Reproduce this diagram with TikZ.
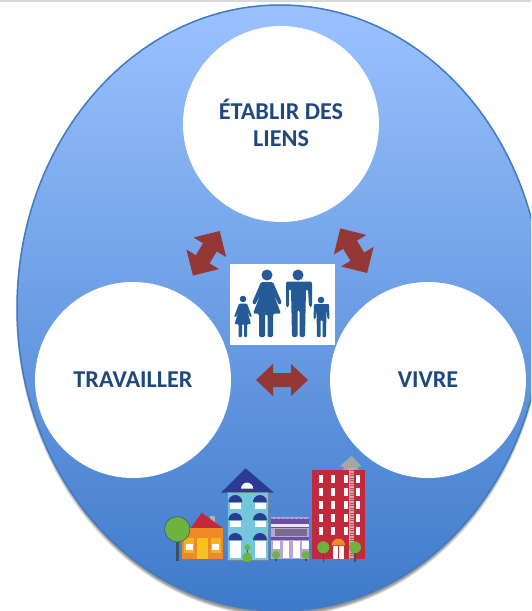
\documentclass[tikz,border=0pt]{standalone}
\usepackage{fontspec}
\setmainfont{Carlito}
\definecolor{txt}{HTML}{1F497D}
\definecolor{arr}{HTML}{953735}
\definecolor{fam}{HTML}{245A96}
\definecolor{navy}{HTML}{2B3A94}
\definecolor{topblue}{RGB}{155,194,255}
\definecolor{botblue}{RGB}{62,122,202}
\definecolor{rimblue}{RGB}{66,122,194}
\definecolor{leaf}{HTML}{6DB33F}
\definecolor{stem}{HTML}{3F4F63}
\definecolor{teal1}{HTML}{74C6DA}
\definecolor{brick}{HTML}{C22A3C}
\definecolor{ora}{HTML}{F08A24}
\definecolor{yel}{HTML}{F9C21E}
\definecolor{lil}{HTML}{B9A4D6}
\definecolor{pur}{HTML}{6A4FA3}
\tikzset{
 circ/.style={circle,fill=white,minimum size=196pt,inner sep=0pt,align=center,text=txt,font=\bfseries\fontsize{24.2}{27}\selectfont},
 person/.style={fill=fam},
 halo/.style={fill=black,fill opacity=.1},
}
\newcommand{\dblarrow}[7]{% x y rotate halflen depth halfwidth halfshaft
 \fill[arr,shift={(#1,#2)},rotate=#3] (-#4,0)--(-#4+#5,-#6)--(-#4+#5,-#7)--(#4-#5,-#7)--(#4-#5,-#6)--(#4,0)--(#4-#5,#6)--(#4-#5,#7)--(-#4+#5,#7)--(-#4+#5,#6)--cycle;}
\newcommand{\shrub}[3]{\fill[leaf] (#1,#2) circle (#3);}
\begin{document}
\begin{tikzpicture}[x=1pt,y=-1pt]
\useasboundingbox (0,0) rectangle (531,611);
\fill[white] (0,0) rectangle (531,611);
\begin{scope}
\clip (0,0) rectangle (531,611);
\foreach \g in {4,3,2,1,0}{\fill[halo] (280,311.5) ellipse [x radius=261+\g*.7,y radius=302+\g*.7];}
\shade[top color=topblue,bottom color=botblue,draw=rimblue,line width=1.5pt] (280,308) ellipse [x radius=263,y radius=303];
\end{scope}
\fill[black!15] (0,0) rectangle (531,2);
\node[circ] (top) at (281,124) {\raisebox{2pt}{ÉTABLIR DES}\\\raisebox{2pt}{LIENS}};
\node[circ] (left) at (133,380) {TRAVAILLER};
\node[circ] (right) at (428,380) {VIVRE};
\dblarrow{206.3}{253.3}{59}{26}{19}{19}{8}
\dblarrow{353.7}{250.7}{-59}{26}{19}{19}{8}
\dblarrow{282}{380}{0}{26}{17}{16}{7}
% family
\node[fill=white,minimum width=105pt,minimum height=81pt,inner sep=0pt] (pic) at (282.5,304.5) {};
\begin{scope}
 % father
 \fill[person] (298,275) circle (5.5);
 \fill[person,rounded corners=2] (286,281.5)--(312,281.5)--(312,307)--(309,307)--(308,289)--(306,289)--(305,337)--(299.5,337)--(299.5,310)--(297.5,310)--(297.5,337)--(292,337)--(291,289)--(289,289)--(289,307)--(286,307)--cycle;
 % mother
 \fill[person] (267,275) circle (5.5);
 \fill[person,rounded corners=1.5] (261,282)--(273,282)--(282,303)--(279,305)--(273,293)--(281,313.5)--(273,313.5)--(273,337)--(267.5,337)--(267.5,314)--(265,314)--(265,337)--(259,337)--(259,313.5)--(253,313.5)--(261,293)--(255,305)--(252,303)--cycle;
 % girl
 \fill[person] (243,299) circle (3.3);
 \fill[person,rounded corners=1] (239,303.5)--(247,303.5)--(252,317)--(250,317)--(247,310)--(251,324)--(247,324)--(247,337)--(244,337)--(244,324)--(242,324)--(242,337)--(238.5,337)--(238.5,324)--(234.5,324)--(239,310)--(236,317)--(234,317)--cycle;
 % boy
 \fill[person] (321,300) circle (3.3);
 \fill[person,rounded corners=1] (314,304)--(329,304)--(329.5,319)--(327.5,319)--(326.5,310)--(326,337)--(322.5,337)--(322.5,320)--(320.5,320)--(320.5,337)--(317,337)--(316.5,310)--(315.5,319)--(313.5,319)--cycle;
\end{scope}
% left tree
\fill[stem] (176,542) rectangle (178.6,560.7);
% orange house
\fill[black!30] (210,516) rectangle (215,523);
\fill[brick] (190.7,528)--(201.7,512.7)--(222.7,528)--cycle;
\fill[ora] (182,528) rectangle (222.7,559.3);
\fill[yel] (197.3,538) rectangle (207.7,559);
\fill[yel!70!ora] (184,538) rectangle (194,553);
\fill[yel!70!ora] (211,538) rectangle (220.7,553);
\fill[white] (186,544) rectangle (193,550);
\fill[white] (212,544) rectangle (219,550);
\draw[fill=leaf,draw=stem,line width=.5pt] (177.3,529.3) circle (12.7);
% blue building
\fill[navy] (221,492.7)--(245.7,468.3)--(274,492.7)--cycle;
\fill[white] (241,488.7) arc [start angle=180,end angle=360,radius=6.1] -- cycle;
\draw[fill=teal1,draw=stem!70,line width=.5pt] (226.9,492.7) rectangle (268.7,560);
\foreach \x/\xx in {235.3/230,260/255}{
 \foreach \y/\h in {502/7,520/7,540/18.3}{
  \fill[navy] (\x-7,\y) arc [start angle=180,end angle=360,radius=7] -- cycle;
  \fill[white] (\xx,\y+.7) rectangle (\xx+10.7,\y+\h);
 }
}
\fill[stem] (246.7,548) rectangle (248,563);
\shrub{247.3}{547.3}{3}
\shrub{247.3}{557.3}{5}
% shop
\fill[lil] (270.7,517.3) rectangle (309.3,559.3);
\fill[pur] (270.7,519) rectangle (309.3,523.5);
\foreach \x in {272,276.5,...,308}{\fill[pur] (\x,519.5) circle (1.4);}
\fill[white!70!lil] (270.7,523.5) rectangle (309.3,526.5);
\fill[pur] (270.7,526.5) rectangle (309.3,528);
\fill[black!35!lil] (275,529.3) rectangle (307,535.7);
\fill[pur] (270.7,536.5) rectangle (309.3,539.5);
\fill[white] (272.7,540.7) rectangle (280,549.3);
\fill[white] (282.7,540.7) rectangle (289.3,558.3);
\fill[white] (292.7,540.7) rectangle (300,558.3);
\fill[white] (301.7,540.7) rectangle (308.7,549.3);
\fill[stem] (275.2,555) rectangle (276.8,561);
\fill[stem] (304.9,555) rectangle (306.5,561);
\shrub{276}{555}{4}
\shrub{305.7}{555}{4}
% red building
\fill[black!35] (339.3,466.7)--(351.7,455.7)--(361.7,466.7)--(358.3,466.7)--(358.3,470)--(343.3,470)--(343.3,466.7)--cycle;
\fill[brick] (312.3,470) rectangle (365,559.3);
\foreach \x in {320.7,333,345.7,358}{
 \foreach \y in {479.3,492,505,517.7,530.7}{
  \fill[white] (\x-2.2,\y-4) rectangle (\x+2.2,\y+4);
 }
}
\fill[brick!45!white] (349,468) rectangle (354,559.3);
\foreach \y in {470,472.5,...,558}{\fill[brick!60!black!70] (349.5,\y) rectangle (353.5,\y+.8);}
\fill[ora] (331.7,545.3) arc [start angle=180,end angle=360,radius=6.7] -- cycle;
\fill[white] (333.3,546) rectangle (344,559);
\fill[brick] (338,546) rectangle (339.3,559);
\fill[stem] (322.6,550) rectangle (324,561.7);
\fill[stem] (354.3,550) rectangle (355.7,561.7);
\shrub{323.3}{547.3}{6}
\shrub{355}{547.3}{6}
\end{tikzpicture}
\end{document}
